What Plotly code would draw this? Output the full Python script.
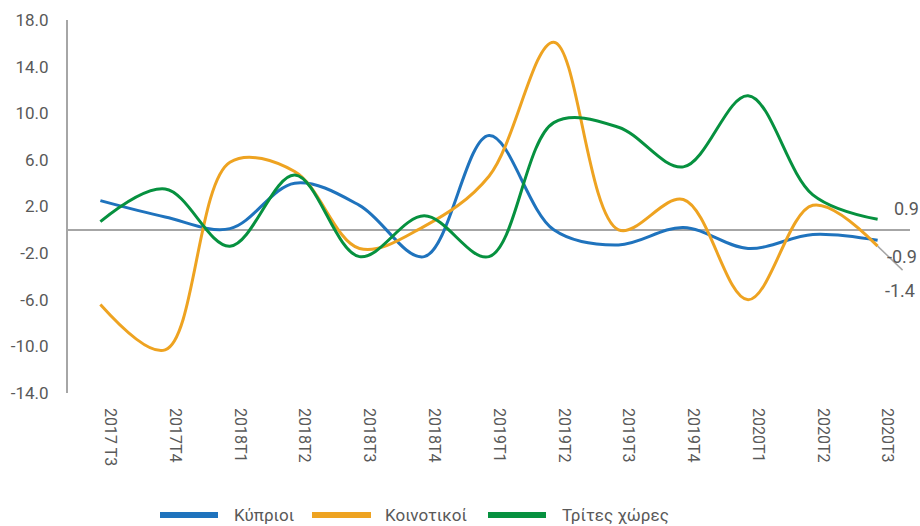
import plotly.graph_objects as go

categories = ["2017 T3", "2017T4", "2018T1", "2018T2", "2018T3", "2018T4", "2019T1",
              "2019T2", "2019T3", "2019T4", "2020T1", "2020T2", "2020T3"]
kyprioi = [2.5, 1.1, 0.1, 4.0, 2.1, -2.3, 8.1, 0.0, -1.3, 0.2, -1.6, -0.4, -0.9]
koinotikoi = [-6.4, -10.3, 5.8, 5.0, -1.6, 0.3, 4.6, 16.1, 0.0, 2.6, -6.0, 2.1, -1.4]
trites = [0.7, 3.5, -1.4, 4.7, -2.3, 1.2, -2.3, 9.2, 8.8, 5.4, 11.5, 3.0, 0.9]
names = ["Κύπριοι", "Κοινοτικοί", "Τρίτες χώρες"]
colors = ["#1f73bd", "#eea321", "#06913f"]
y_ticks = [18, 14, 10, 6, 2, -2, -6, -10, -14]

FONT = "Roboto"
TXT = "#595959"

fig = go.Figure()
for vals, nm, col in zip([kyprioi, koinotikoi, trites], names, colors):
    fig.add_trace(go.Scatter(x=categories, y=vals, name=nm, mode="lines",
                             line=dict(color=col, width=3, shape="spline", smoothing=1.0),
                             showlegend=False, hoverinfo="skip"))

L, R, T, B, W, H = 68, 10, 20, 133, 920, 526
pw, ph = W - L - R, H - T - B

def px_x(p):
    return (p - L) / pw

def px_y(p):
    return (H - B - p) / ph

shapes = []
annotations = []
# custom legend
leg_items = [(160, 218, 232), (312, 371, 383), (488, 546, 560)]
for (x0, x1, tx), nm, col in zip(leg_items, names, colors):
    shapes.append(dict(type="line", xref="paper", yref="paper", x0=px_x(x0), x1=px_x(x1),
                       y0=px_y(515), y1=px_y(515), line=dict(color=col, width=6)))
    annotations.append(dict(xref="paper", yref="paper", x=px_x(tx), y=px_y(515), text=nm,
                            showarrow=False, xanchor="left", yanchor="middle",
                            font=dict(family=FONT, size=17, color=TXT)))

# end labels
last = len(categories) - 1
annotations.append(dict(x=last, y=trites[-1], text=f"{trites[-1]:.1f}", showarrow=False,
                        xanchor="left", yanchor="middle", xshift=14, yshift=11,
                        font=dict(family=FONT, size=18, color=TXT)))
annotations.append(dict(x=last, y=kyprioi[-1], text=f"{kyprioi[-1]:.1f}", showarrow=False,
                        xanchor="left", yanchor="middle", xshift=7, yshift=-16,
                        font=dict(family=FONT, size=18, color=TXT)))
annotations.append(dict(x=last, y=koinotikoi[-1], text=f"{koinotikoi[-1]:.1f}", showarrow=False,
                        xanchor="left", yanchor="middle", xshift=5, yshift=-44,
                        font=dict(family=FONT, size=18, color=TXT)))
# leader line for last orange label
shapes.append(dict(type="line", xref="x", yref="y", x0=last, y0=koinotikoi[-1],
                   x1=last + 25 / 64.8, y1=koinotikoi[-1] - 24 / 11.66,
                   line=dict(color="#a6a6a6", width=1.5)))

fig.update_layout(
    width=W, height=H,
    margin=dict(l=L, r=R, t=T, b=B),
    paper_bgcolor="white", plot_bgcolor="white",
    font=dict(family=FONT, color=TXT),
    shapes=shapes, annotations=annotations,
    xaxis=dict(type="category", range=[-0.5, 12.5], showgrid=False, showline=False,
               zeroline=False, tickangle=90, ticks="", ticklabelshift=10,
               ticklabelstandoff=14, tickfont=dict(family=FONT, size=16, color=TXT)),
    yaxis=dict(range=[-14, 18], tickvals=y_ticks, ticktext=[f"{v:.1f}" for v in y_ticks],
               showgrid=False, showline=True, linecolor="#a6a6a6", linewidth=2,
               zeroline=True, zerolinecolor="#a6a6a6", zerolinewidth=2, ticks="",
               ticklabelstandoff=14, tickfont=dict(family=FONT, size=17, color=TXT)),
)

fig.write_html("out.html", config={"displayModeBar": False},
               post_script="document.body.style.margin='0';document.body.style.overflow='hidden';")
